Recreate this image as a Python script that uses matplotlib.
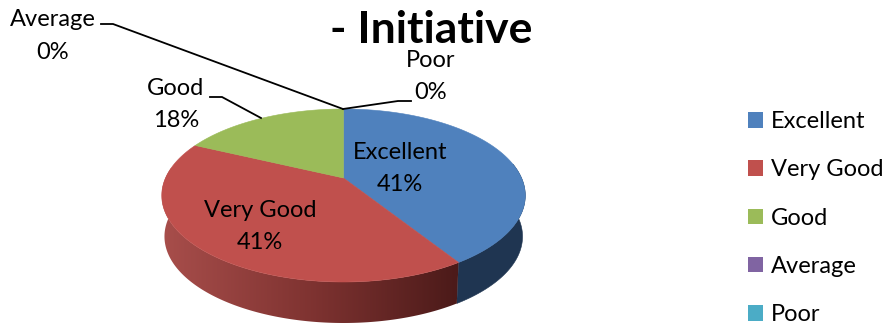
#!/usr/bin/env python3
import numpy as np
import matplotlib
matplotlib.use("Agg")
import matplotlib.pyplot as plt
from matplotlib.patches import Patch, Polygon
from matplotlib.colors import LinearSegmentedColormap

plt.rcParams['font.family'] = ['Lato', 'DejaVu Sans']

title = "- Initiative"
categories = ["Excellent", "Very Good", "Good", "Average", "Poor"]
values = [41, 41, 18, 0, 0]
colors = ["#4f81bd", "#c0504d", "#9bbb59", "#8064a2", "#4bacc6"]

# where each data label sits, and its leader line if it has one
label_pos = [(400, 168.5), (260, 226.5), (176, 104.5), (53, 36), (431, 76.5)]
leaders = {
    "Good": [(210, 97), (222, 97), (261, 118)],
    "Average": [(101, 24), (113, 24), (343, 109)],
    "Poor": [(343, 109), (398, 101), (411, 101)],
}

# pie geometry in pixels, top face is a disc seen in perspective
CX, CY = 343.5, 178
R = 178
PERSP = 0.2023
SQUASH = -46.95
DEPTH = 41


def rim(theta, scale=1.0, drop=0):
    # theta runs clockwise from 12 o'clock
    x = np.sin(theta)
    y = np.cos(theta)
    w = 1 + PERSP * y
    return CX + scale * R * x / w, (CY + SQUASH * y) / w + drop


fig = plt.figure(figsize=(8.87, 3.27), dpi=100)
ax = fig.add_axes([0, 0, 1, 1])

edges = np.radians(np.cumsum([0] + values) * 3.6)
red_fade = LinearSegmentedColormap.from_list("red_fade", ["#a84e4b", "#7f3331", "#4b1a19"])

# side wall
for i, name in enumerate(categories):
    lo = max(edges[i], np.radians(80))
    hi = min(edges[i + 1], np.radians(277))
    if hi <= lo:
        continue
    t = np.linspace(lo, hi, 200)
    x1, y1 = rim(t)
    x2, y2 = rim(t, scale=0.985, drop=DEPTH)
    pts = list(zip(x1, y1)) + list(zip(x2[::-1], y2[::-1]))
    if name == "Very Good":
        wall = Polygon(pts, closed=True, facecolor='none', edgecolor='none', transform=ax.transData)
        ax.add_patch(wall)
        img = ax.imshow(np.linspace(0, 1, 256).reshape(1, -1), cmap=red_fade, aspect='auto',
                        extent=(min(x1.min(), x2.min()), max(x1.max(), x2.max()), 330, 100), zorder=1)
        img.set_clip_path(wall)
    else:
        ax.add_patch(Polygon(pts, closed=True, facecolor="#1f3551", edgecolor="#1f3551", linewidth=0.4, zorder=1))

ax.set_xlim(0, 887)
ax.set_ylim(327, 0)
ax.axis('off')

# top face
for i, name in enumerate(categories):
    if edges[i + 1] <= edges[i]:
        continue
    t = np.linspace(edges[i], edges[i + 1], 200)
    x, y = rim(t)
    pts = [(CX, CY)] + list(zip(x, y))
    ax.add_patch(Polygon(pts, closed=True, facecolor=colors[i], edgecolor=colors[i], linewidth=0.4, zorder=2))

for name, pts in leaders.items():
    xs, ys = zip(*pts)
    ax.plot(xs, ys, color="black", linewidth=1.3, zorder=3, solid_joinstyle='miter')

for name, val, (lx, ly) in zip(categories, values, label_pos):
    ax.text(lx, ly, f"{name}\n{val}%", ha='center', va='center', fontsize=17,
            linespacing=1.65, color="black", zorder=4)

ax.text(431, 30, title, ha='center', va='center', fontsize=32, fontweight='bold', color="black")

handles = [Patch(facecolor=c, edgecolor='none', label=n) for c, n in zip(colors, categories)]
ax.legend(handles=handles, loc='upper left', bbox_to_anchor=(0.8433, 0.66), frameon=False,
          fontsize=17, handlelength=0.64, handleheight=0.64, handletextpad=0.34,
          labelspacing=1.155, borderpad=0, borderaxespad=0)

fig.savefig("out.png", dpi=100)
